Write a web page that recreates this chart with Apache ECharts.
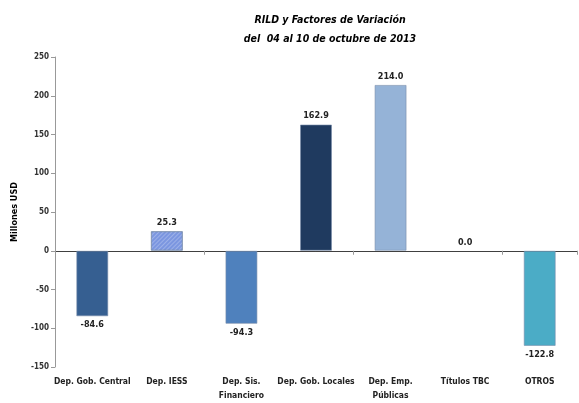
<!DOCTYPE html>
<html>
<head>
<meta charset="utf-8">
<script src="https://cdn.jsdelivr.net/npm/echarts@6/dist/echarts.min.js"></script>
<style>
  html, body { margin: 0; padding: 0; background: #ffffff; }
  #chart { width: 579px; height: 403px; }
</style>
</head>
<body>
<div id="chart"></div>
<script>
  // datos
  var categories = ['Dep. Gob. Central', 'Dep. IESS', 'Dep. Sis.\nFinanciero', 'Dep. Gob. Locales', 'Dep. Emp.\nPúblicas', 'Títulos TBC', 'OTROS']
  var values = [-84.6, 25.3, -94.3, 162.9, 214.0, 0.0, -122.8]
  var barColors = ['#365f91', '#7b96e0', '#4f81bd', '#1f3a5f', '#95b3d7', '#95b3d7', '#4bacc6']
  var yTicks = [-150, -100, -50, 0, 50, 100, 150, 200, 250]

  var font = '"DejaVu Sans Condensed", "Liberation Sans", Arial, sans-serif'

  var chart = echarts.init(document.getElementById('chart'))
  chart.setOption({
    animation: false,
    title: {
      text: 'RILD y Factores de Variación\ndel  04 al 10 de octubre de 2013',
      left: 325,
      textAlign: 'center',
      top: 6,
      textStyle: {
        fontFamily: font,
        fontSize: 10.5,
        fontStyle: 'italic',
        fontWeight: 'bold',
        color: '#000',
        lineHeight: 19,
      },
    },
    grid: { left: 55, right: 2, top: 57, bottom: 33 },
    xAxis: [
      {
        type: 'category',
        data: categories,
        axisLine: { onZero: true, lineStyle: { color: '#404040', width: 1 } },
        axisTick: { show: true, length: 4, lineStyle: { color: '#999' } },
        axisLabel: { show: false },
      },
      {
        type: 'category',
        data: categories,
        position: 'bottom',
        axisLine: { show: false, onZero: false },
        axisTick: { show: false },
        axisLabel: {
          interval: 0,
          margin: 8,
          fontFamily: font,
          fontSize: 8.5,
          fontWeight: 'bold',
          color: '#222',
          lineHeight: 14,
        },
      },
    ],
    yAxis: {
      type: 'value',
      min: yTicks[0],
      max: yTicks[yTicks.length - 1],
      interval: 50,
      name: 'Millones USD',
      nameLocation: 'middle',
      nameGap: 36,
      nameTextStyle: { fontFamily: font, fontSize: 9, fontWeight: 'bold', color: '#000' },
      splitLine: { show: false },
      axisLine: { show: true, lineStyle: { color: '#999' } },
      axisTick: { show: true, length: 4, lineStyle: { color: '#999' } },
      axisLabel: { fontFamily: font, fontSize: 8, fontWeight: 'bold', color: '#333', margin: 6 },
    },
    series: [
      {
        type: 'bar',
        xAxisIndex: 0,
        barWidth: 32,
        data: values.map(function (v, i) {
          var item = {
            value: v,
            itemStyle: { color: barColors[i], borderColor: 'rgba(120,140,170,0.6)', borderWidth: v === 0 ? 0 : 1 },
            label: { position: v < 0 ? 'bottom' : 'top' },
          }
          if (i === 1) {
            item.itemStyle.decal = {
              symbol: 'rect',
              dashArrayX: [1, 0],
              dashArrayY: [1, 2],
              rotation: -Math.PI / 4,
              color: 'rgba(255,255,255,0.25)',
            }
          }
          return item
        }),
        label: {
          show: true,
          formatter: function (p) { return p.value.toFixed(1) },
          fontFamily: font,
          fontSize: 9,
          fontWeight: 'bold',
          color: '#222',
          distance: 4,
        },
      },
    ],
  })
</script>
</body>
</html>
